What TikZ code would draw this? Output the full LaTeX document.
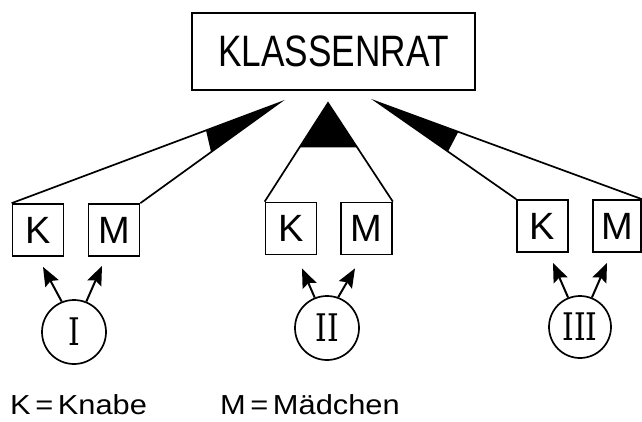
\documentclass[tikz,border=0pt]{standalone}
\usepackage{fontspec}
\newfontfamily\titlefont[FakeStretch=0.8]{Liberation Sans}
\newfontfamily\boxfont[FakeStretch=1.0]{Liberation Sans}
\newfontfamily\legendfont[FakeStretch=1.12]{Liberation Sans}
\newfontfamily\romfont[FakeStretch=0.78]{DejaVu Serif}
\usetikzlibrary{arrows.meta,calc}
\begin{document}
\begin{tikzpicture}[x=1pt,y=-1pt,
  lw/.style={line width=1.7pt},
  title/.style={draw,lw,minimum width=283pt,minimum height=77pt,inner sep=0pt,font=\titlefont\fontsize{44}{44}\selectfont},
  km/.style={draw,lw,minimum width=51pt,minimum height=52pt,inner sep=0pt,font=\boxfont\fontsize{38}{38}\selectfont},
  grp/.style={circle,draw,lw,minimum size=64pt,inner sep=0pt,font=\romfont\fontsize{38}{38}\selectfont},
  fan/.style={lw},
  wedge/.style={fill=black},
  arr/.style={line width=2pt,-{Stealth[length=19pt,width=15pt,inset=3pt]}},
  legend/.style={anchor=base west,inner sep=0pt,font=\legendfont\fontsize{27.5}{27.5}\selectfont}]
\useasboundingbox (0,0) rectangle (642,421);
\fill[white] (0,0) rectangle (642,421);

\node[title] (rat) at (333.5,51.5) {KLASSENRAT};

\node[km] (K1) at (38,230) {K};
\node[km] (M1) at (114,230) {M};
\node[km] (K2) at (291,228.5) {K};
\node[km] (M2) at (366.5,228.5) {M};
\node[km] (K3) at (542.5,226) {K};
\node[km,minimum width=48pt] (M3) at (617,226) {M};

\node[grp] (C1) at (74,332) {I};
\node[grp] (C2) at (327,328) {II};
\node[grp,minimum size=62pt] (C3) at (580,327) {III};

\coordinate (A1) at (279,103);
\coordinate (A2) at (328,103);
\coordinate (A3) at (377,102);

% fans
\draw[fan] (K1.north west) -- (A1) -- (M1.north east);
\fill[wedge] (A1) -- ($(A1)!0.273!(K1.north west)$) -- ($(A1)!0.49!(M1.north east)$) -- cycle;
\draw[fan] (K2.north west) -- (A2) -- (M2.north east);
\fill[wedge] (A2) -- ($(A2)!0.45!(K2.north west)$) -- ($(A2)!0.45!(M2.north east)$) -- cycle;
\draw[fan] (K3.north west) -- (A3) -- (M3.north east);
\fill[wedge] (A3) -- ($(A3)!0.51!(K3.north west)$) -- ($(A3)!0.307!(M3.north east)$) -- cycle;

% arrows
\draw[arr] (C1.112) -- ([xshift=5pt,yshift=-10pt]K1.south);
\draw[arr] (C1.68) -- ([xshift=-12pt,yshift=-9pt]M1.south);
\draw[arr] (C2.112) -- ([xshift=11pt,yshift=-13pt]K2.south);
\draw[arr] (C2.70) -- ([xshift=-11.5pt,yshift=-13pt]M2.south);
\draw[arr] (C3.112) -- ([xshift=10.5pt,yshift=-10pt]K3.south);
\draw[arr] (C3.68) -- ([xshift=-10pt,yshift=-10pt]M3.south);

% legend
\node[legend] (lk) at (10,414) {K\,=\,Knabe};
\node[legend] (lm) at (220,414) {M\,=\,Mädchen};
\end{tikzpicture}
\end{document}
